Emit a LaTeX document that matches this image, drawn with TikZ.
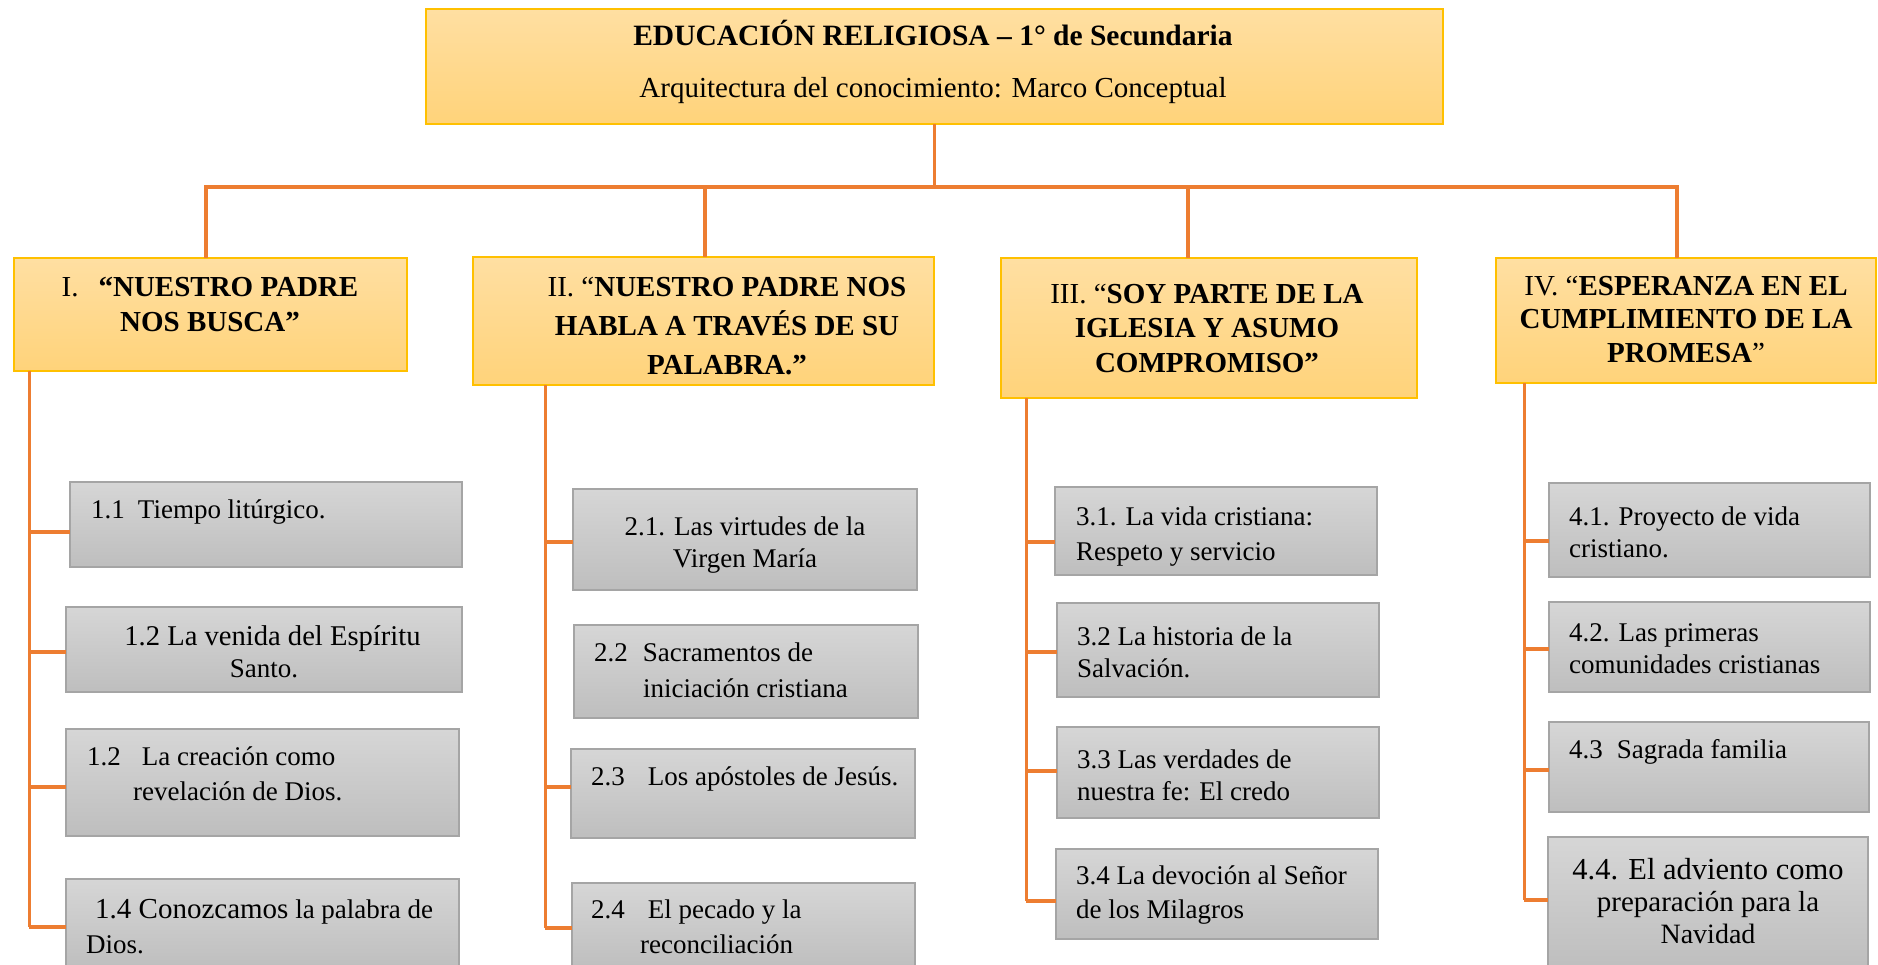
\documentclass[tikz,border=0pt]{standalone}
\usepackage{fontspec}
\setmainfont{Liberation Serif}
\definecolor{hdrtop}{RGB}{255,223,162}
\definecolor{hdrbot}{RGB}{255,211,122}
\definecolor{hdrline}{RGB}{255,192,0}
\definecolor{subtop}{RGB}{214,214,214}
\definecolor{subbot}{RGB}{190,190,190}
\definecolor{subline}{RGB}{165,165,165}
\definecolor{linkc}{RGB}{237,125,49}
\tikzset{
  hdr/.style={draw=hdrline, line width=1.3pt, top color=hdrtop, bottom color=hdrbot, inner sep=0pt, outer sep=0pt, anchor=north west},
  sub/.style={draw=subline, line width=1.6pt, top color=subtop, bottom color=subbot, inner sep=0pt, outer sep=0pt, anchor=north west},
  link/.style={draw=linkc, line width=3.6pt},
  spine/.style={draw=linkc, line width=3pt},
  htxt/.style={inner sep=0pt, align=center, anchor=base, font=\bfseries},
  ctxt/.style={inner sep=0pt, align=left, anchor=base west},
  ctxtc/.style={inner sep=0pt, align=center, anchor=base},
}
\begin{document}
\begin{tikzpicture}[x=1pt,y=-1pt]
\useasboundingbox (0,0) rectangle (1878,964);

% top box
\node[hdr, minimum width=1017pt, minimum height=115pt] (top) at (426,9) {};
\node[htxt, font=\bfseries\fontsize{29.5}{35}\selectfont] (ttl) at (933,45) {EDUCACIÓN RELIGIOSA – 1° de Secundaria};
\node[htxt, font=\fontsize{29}{35}\selectfont] (sbt) at (933,97) {Arquitectura del conocimiento: Marco Conceptual};

% bus
\coordinate (bus1) at (206,187);
\coordinate (bus2) at (705,187);
\coordinate (bus3) at (1188,187);
\coordinate (bus4) at (1677,187);

% headers
\node[hdr, minimum width=393pt, minimum height=113pt] (h1) at (14,258) {};
\node[hdr, minimum width=461pt, minimum height=128pt] (h2) at (473,257) {};
\node[hdr, minimum width=416pt, minimum height=140pt] (h3) at (1001,258) {};
\node[hdr, minimum width=380pt, minimum height=125pt] (h4) at (1496,258) {};

\draw[link] (top.south) -- (top.south |- bus1);
\draw[link] (bus1 |- h1.north) -- (bus1) -- (bus4) -- (bus4 |- h4.north);
\draw[link] (bus2) -- (bus2 |- h2.north);
\draw[link] (bus3) -- (bus3 |- h3.north);

\node[htxt, font=\bfseries\fontsize{29}{35}\selectfont] (h1t) at (210,331) {{\mdseries I.}\hspace{20pt}“NUESTRO PADRE\\NOS BUSCA”};
\node[htxt, font=\bfseries\fontsize{29}{39}\selectfont] (h2t) at (727,374) {{\mdseries II. “}NUESTRO PADRE NOS\\HABLA A TRAVÉS DE SU\\PALABRA.”};
\node[htxt, font=\bfseries\fontsize{29}{34.5}\selectfont] (h3t) at (1207,372) {{\mdseries III. “}SOY PARTE DE LA\\IGLESIA Y ASUMO\\COMPROMISO”};
\node[htxt, font=\bfseries\fontsize{29}{33.5}\selectfont] (h4t) at (1686,362) {{\mdseries IV. “}ESPERANZA EN EL\\CUMPLIMIENTO DE LA\\PROMESA{\mdseries ”}};

% column I
\node[sub, minimum width=392pt, minimum height=85pt] (c11) at (70,482) {};
\node[sub, minimum width=396pt, minimum height=85pt] (c12) at (66,607) {};
\node[sub, minimum width=393pt, minimum height=107pt] (c13) at (66,729) {};
\node[sub, minimum width=393pt, minimum height=90pt] (c14) at (66,879) {};
\node[ctxt, font=\fontsize{27}{32}\selectfont] (t11) at (91,518) {1.1\hspace{13pt}Tiempo litúrgico.};
\node[ctxtc, font=\fontsize{27}{32}\selectfont] (t12) at (264,677) {\hspace*{17pt}{\fontsize{28.6}{32}\selectfont 1.2 La venida del Espíritu}\\Santo.};
\node[ctxt, font=\fontsize{27}{35}\selectfont] (t13) at (87,800) {1.2\hspace{21pt}La creación como\\\hspace*{46pt}revelación de Dios.};
\node[ctxt, font=\fontsize{27}{35}\selectfont] (t14) at (86,953) {\hspace*{9pt}{\fontsize{29}{35}\selectfont 1.4 Conozcamos} la palabra de\\Dios.};
\coordinate (j11) at (29,532);
\coordinate (j12) at (29,652);
\coordinate (j13) at (29,787);
\coordinate (j14) at (29,927);
\draw[spine] (j11 |- h1.south) -- (j14);
\draw[link] (j11) -- (j11 -| c11.west);
\draw[link] (j12) -- (j12 -| c12.west);
\draw[link] (j13) -- (j13 -| c13.west);
\draw[link] (j14) -- (j14 -| c14.west);

% column II
\node[sub, minimum width=344pt, minimum height=101pt] (c21) at (573,489) {};
\node[sub, minimum width=344pt, minimum height=93pt] (c22) at (574,625) {};
\node[sub, minimum width=344pt, minimum height=89pt] (c23) at (571,749) {};
\node[sub, minimum width=343pt, minimum height=86pt] (c24) at (572,883) {};
\node[ctxtc, font=\fontsize{27}{32}\selectfont] (t21) at (745,567) {2.1. Las virtudes de la\\Virgen María};
\node[ctxt, font=\fontsize{27}{36}\selectfont] (t22) at (594,697) {2.2\hspace{15pt}Sacramentos de\\\hspace*{49pt}iniciación cristiana};
\node[ctxt, font=\fontsize{27}{32}\selectfont] (t23) at (591,785) {2.3\hspace{23pt}Los apóstoles de Jesús.};
\node[ctxt, font=\fontsize{27}{35}\selectfont] (t24) at (591,953) {2.4\hspace{23pt}El pecado y la\\\hspace*{49pt}reconciliación};
\coordinate (j21) at (545,542);
\coordinate (j23) at (545,787);
\coordinate (j24) at (545,928);
\draw[spine] (j21 |- h2.south) -- (j24);
\draw[link] (j21) -- (j21 -| c21.west);
\draw[link] (j23) -- (j23 -| c23.west);
\draw[link] (j24) -- (j24 -| c24.west);

% column III
\node[sub, minimum width=322pt, minimum height=88pt] (c31) at (1055,487) {};
\node[sub, minimum width=322pt, minimum height=94pt] (c32) at (1057,603) {};
\node[sub, minimum width=322pt, minimum height=91pt] (c33) at (1057,727) {};
\node[sub, minimum width=322pt, minimum height=90pt] (c34) at (1056,849) {};
\node[ctxt, font=\fontsize{27}{35}\selectfont] (t31) at (1076,560) {3.1. La vida cristiana:\\Respeto y servicio};
\node[ctxt, font=\fontsize{27}{32}\selectfont] (t32) at (1077,677) {3.2 La historia de la\\Salvación.};
\node[ctxt, font=\fontsize{27}{32}\selectfont] (t33) at (1077,800) {3.3 Las verdades de\\nuestra fe: El credo};
\node[ctxt, font=\fontsize{27}{34}\selectfont] (t34) at (1076,918) {3.4 La devoción al Señor\\de los Milagros};
\coordinate (j31) at (1026,542);
\coordinate (j32) at (1026,652);
\coordinate (j33) at (1026,771);
\coordinate (j34) at (1026,901);
\draw[spine] (j31 |- h3.south) -- (j34);
\draw[link] (j31) -- (j31 -| c31.west);
\draw[link] (j32) -- (j32 -| c32.west);
\draw[link] (j33) -- (j33 -| c33.west);
\draw[link] (j34) -- (j34 -| c34.west);

% column IV
\node[sub, minimum width=321pt, minimum height=94pt] (c41) at (1549,483) {};
\node[sub, minimum width=321pt, minimum height=90pt] (c42) at (1549,602) {};
\node[sub, minimum width=320pt, minimum height=90pt] (c43) at (1549,722) {};
\node[sub, minimum width=320pt, minimum height=132pt] (c44) at (1548,837) {};
\node[ctxt, font=\fontsize{27}{32}\selectfont] (t41) at (1569,557) {4.1. Proyecto de vida\\cristiano.};
\node[ctxt, font=\fontsize{27}{32}\selectfont] (t42) at (1569,673) {4.2. Las primeras\\comunidades cristianas};
\node[ctxt, font=\fontsize{27}{32}\selectfont] (t43) at (1569,758) {4.3\hspace{14pt}Sagrada familia};
\node[ctxtc, font=\fontsize{28}{32}\selectfont] (t44) at (1708,943) {{\fontsize{30.5}{32}\selectfont 4.4. El adviento como}\\{\fontsize{29}{32}\selectfont preparación para la}\\Navidad};
\coordinate (j41) at (1524,541);
\coordinate (j42) at (1524,649);
\coordinate (j43) at (1524,770);
\coordinate (j44) at (1524,900);
\draw[spine] (j41 |- h4.south) -- (j44);
\draw[link] (j41) -- (j41 -| c41.west);
\draw[link] (j42) -- (j42 -| c42.west);
\draw[link] (j43) -- (j43 -| c43.west);
\draw[link] (j44) -- (j44 -| c44.west);
\end{tikzpicture}
\end{document}
